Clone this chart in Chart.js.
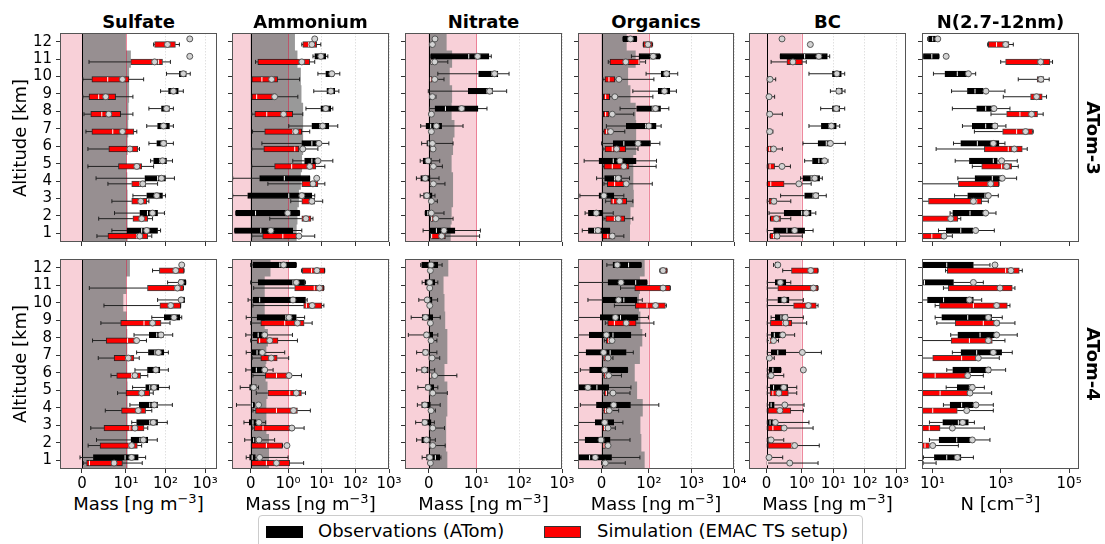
<!DOCTYPE html>
<html>
<head>
<meta charset="utf-8">
<script src="https://cdn.jsdelivr.net/npm/chart.js@4.4.0/dist/chart.umd.min.js"></script>
<style>
  body { margin: 0; width: 1105px; height: 544px; overflow: hidden; position: relative; background: #fff;
         font-family: 'DejaVu Sans', sans-serif; color: #000; }
  canvas { position: absolute; }
  .lbl { position: absolute; white-space: nowrap; line-height: 1; font-size: 18px; transform: translate(-50%, -50%); }
  .bold { font-weight: bold; }
  .lbl sup { font-size: 13px; vertical-align: 7px; line-height: 0; }
  #legend { position: absolute; left: 258px; top: 515px; width: 603px; height: 36px; border: 1px solid #cccccc;
            border-radius: 4px; background: #fff; font-size: 18px; }
  .patch { position: absolute; top: 10px; width: 37px; height: 12px; box-sizing: border-box; }
  .ltext { position: absolute; top: 6px; line-height: 1; }
</style>
</head>
<body>
<div id="legend">
  <div class="patch" style="left:7px;background:#000;"></div>
  <div class="ltext" style="left:59px;">Observations (ATom)</div>
  <div class="patch" style="left:285px;background:#ff0000;border:1px solid #333;"></div>
  <div class="ltext" style="left:338px;">Simulation (EMAC TS setup)</div>
</div>
<script>
const altitudes = [1, 2, 3, 4, 5, 6, 7, 8, 9, 10, 11, 12];

// each row: [whisker low, Q1, median, Q3, whisker high, mean], altitude 1 -> 12

// ---- ATom-3 ----
const sulfateA3Obs = [
  [6.8, 10.6, 25, 63, 75, 33.5], [7.4, 22.4, 35, 63, 94, 47], [15, 33.5, 53, 84, 100, 60],
  [3.2, 30, 63, 100, 168, 79], [42, 50, 71, 106, 150, 84], [38, 60, 80, 106, 158, 89],
  [33.5, 63, 89, 126, 158, 89], [38, 79, 106, 126, 158, 106], [75, 119, 158, 211, 282, 158],
  [106, 224, 282, 335, 422, 282], [410, 410, 410, 410, 410, 410], [410, 410, 410, 410, 410, 410]
];
const sulfateA3Sim = [
  [3.4, 5.9, 18.8, 35.5, 45, 22.4], [3.8, 15, 22.4, 35.5, 47, 25], [6.8, 14, 21, 33.5, 38, 23.7],
  [5.9, 14, 22.4, 31.6, 63, 26.6], [1.35, 8.3, 16.8, 25, 50, 18.8], [1.35, 6.1, 11.2, 20, 22, 12.6],
  [0.9, 2.25, 7.0, 15.8, 18.8, 9.2], [0.45, 2.0, 4.5, 8.8, 15, 6.1], [0.2, 1.6, 3.8, 7.65, 15, 5.4],
  [0.2, 2.25, 5.85, 11.9, 28, 9.2], [1.6, 13.3, 67, 84, 133, 53], [50, 53, 100, 178, 224, 112]
];
const sulfateA3Gray = [11, 11, 11, 10.8, 10.4, 11, 11.4, 11.6, 12, 12, 13.3, 10];

const ammoniumA3Obs = [
  [-0.43, -0.43, 0.27, 1.38, 2.56, 0.54], [-0.4, -0.4, 0.13, 2.2, 2.2, 0.99], [-0.48, -0.08, 1.05, 5.1, 6.2, 2.56],
  [-0.48, 0.24, 0.9, 4.4, 4.4, 7.1], [1.38, 3.1, 5.1, 7.1, 21.4, 7.7], [0.3, 2.56, 5.1, 8.3, 16.3, 8.3],
  [1.05, 5.1, 8.8, 16.3, 30, 10.7], [3.4, 9.4, 13.2, 18.7, 21.4, 13.2], [5.8, 14.2, 18.7, 24.5, 32.4, 18.7],
  [7.7, 13.2, 17.5, 22.9, 34.5, 20], [5.5, 6.2, 9.4, 13.2, 15.2, 9.4], [6.2, 6.2, 6.2, 6.2, 6.2, 6.2]
];
const ammoniumA3Sim = [
  [0.03, 0.32, 0.86, 1.8, 6.2, 2.1], [0.51, 2.56, 3.4, 4.8, 5.5, 3.4], [1.2, 2.56, 4.4, 6.2, 10.7, 5.1],
  [0.46, 2.56, 5.1, 7.7, 12.4, 5.5], [0.03, 0.64, 1.28, 6.7, 12.4, 4.4], [0.03, 0.35, 1.58, 2.1, 7.7, 2.74],
  [0.05, 0.375, 1.38, 2.56, 4.4, 1.69], [0.03, 0.11, 0.43, 1.38, 2.74, 0.88], [0.03, 0.03, 0.16, 0.67, 1.95, 0.64],
  [0.03, 0.03, 0.3, 0.72, 2.2, 0.56], [0.13, 0.19, 2.74, 4.4, 6.2, 2.56], [2.56, 2.74, 4.1, 7.1, 9.4, 5.1]
];
const ammoniumA3Gray = [1.8, 1.9, 2.1, 2.4, 2.6, 2.8, 2.8, 2.8, 2.5, 2.4, 1.9, 1.6];

const nitrateA3Obs = [
  [-1.2, 0.2, 1.6, 5.5, 12.4, 3.2], [-0.76, -0.76, -0.2, 0.28, 3.2, 0.55], [-1.8, -1.1, -0.6, 0.7, 1.3, -0.4],
  [-2.6, -1.7, -1.0, 0.28, 2.15, -0.76], [-1.8, -1.2, -0.3, 0.55, 2.3, -0.14], [-1.5, -0.42, -0.1, 0.28, 5.1, 0.76],
  [-1.7, -0.6, 0.4, 2.7, 7.2, 1.6], [0.14, 1.3, 3.5, 10.9, 17.7, 6.9], [-0.1, 8.3, 17.7, 23.9, 51, 20.4],
  [1.9, 11.3, 23.1, 31.8, 58, 26.6], [0.42, 0.42, 8.4, 19.7, 22.3, 10.7], [1.3, 1.3, 1.3, 1.3, 1.3, 1.3]
];
const nitrateA3Sim = [
  [0.42, 0.42, 0.6, 3.5, 11.9, 2.7], [0.42, 0.42, 0.6, 0.97, 5.1, 1.46], [0.28, 0.28, 0.4, 0.62, 1.8, 0.55],
  [0.28, 0.28, 0.4, 0.55, 3.4, 0.97], [0.28, 0.28, 0.4, 0.55, 2.85, 0.97], [0.28, 0.28, 0.4, 0.55, 0.9, 0.9],
  [0.28, 0.28, 0.35, 0.5, 0.6, 0.55], [0.28, 0.28, 0.35, 0.5, 0.6, 0.55], [0.28, 0.28, 0.4, 0.55, 1.5, 0.76],
  [0.2, 0.2, 0.4, 0.7, 3.2, 1.25], [0.42, 0.42, 0.55, 0.76, 4.0, 1.25], [0.5, 0.55, 0.65, 0.76, 0.8, 0.76]
];
const nitrateA3Gray = [4.6, 4.8, 5.1, 5.1, 4.8, 5.1, 5.4, 4.8, 4.9, 4.4, 4.9, 3.75];

const organicsA3Obs = [
  [-41, -28, -15, 17, 17, -7.7], [-35, -28, -15, 2.8, 24.6, -11.3], [-46, -5.6, 1.4, 26, 47, 4.9],
  [-10.6, 6.3, 27.5, 42, 59, 35], [-37, -5.6, 24.6, 73, 151, 38.7], [0, 24.6, 47, 109, 181, 77],
  [10, 52, 93, 148, 194, 100], [39, 74, 120, 188, 294, 143], [66, 165, 232, 310, 443, 232],
  [94, 194, 245, 310, 476, 259], [63, 79, 109, 181, 188, 126], [45, 45, 60, 74, 74, 61]
];
const organicsA3Sim = [
  [1.4, 1.4, 13, 28, 47, 22.5], [4.9, 8.5, 27, 49, 66, 35], [8.5, 19, 24.6, 53, 66, 38],
  [4.9, 12, 27.5, 56, 120, 52], [2.8, 4.9, 22.5, 58, 148, 47], [2.8, 7, 22.5, 51, 77, 31.7],
  [2.8, 4.9, 10.6, 15.5, 49, 19], [2.8, 3.5, 8.5, 15.5, 68, 22.5], [2.8, 3.5, 8.5, 17, 124, 28],
  [2.8, 7, 15.5, 28, 131, 36.6], [14, 17.6, 79, 81, 93, 51], [88, 88, 96, 120, 122, 98]
];
const organicsA3Gray = [60, 61, 68, 67, 67, 73, 73, 72, 61, 56, 72, 53];

const bcA3Obs = [
  [0.02, 0.2, 0.58, 1.24, 2.3, 0.8], [0.07, 0.5, 1.0, 2.0, 2.8, 1.4], [0.4, 1.24, 2.3, 3.45, 6, 2.8],
  [0.97, 1.1, 2.0, 3.7, 4.5, 2.6], [1.24, 2.2, 3.5, 6, 6.8, 5.3], [1.1, 3.3, 6, 8.7, 24, 8.1],
  [1.7, 4.2, 7.3, 12.5, 16, 8.7], [4, 9.4, 12.5, 16, 23, 12.5], [8.1, 12.5, 15, 19.4, 23.5, 15],
  [1.7, 9.4, 12.5, 18, 23, 13], [0.39, 0.39, 1.24, 6.5, 7.7, 3.5], [0.44, 0.44, 0.44, 0.44, 0.44, 0.44]
];
const bcA3Sim = [
  [0.1, 0.1, 0.2, 0.37, 1.05, 0.3], [0.11, 0.11, 0.25, 0.4, 0.69, 0.28], [0.02, 0.07, 0.15, 0.28, 0.69, 0.21],
  [0.02, 0.02, 0.12, 0.5, 2.0, 0.92], [0.02, 0.04, 0.1, 0.23, 0.68, 0.44], [0.02, 0.02, 0.08, 0.15, 0.45, 0.2],
  [0.02, 0.02, 0.05, 0.08, 0.18, 0.09], [0.02, 0.02, 0.05, 0.08, 0.45, 0.09], [0.02, 0.02, 0.04, 0.07, 0.23, 0.07],
  [0.02, 0.02, 0.05, 0.09, 0.26, 0.1], [0.13, 0.58, 0.8, 1.05, 1.4, 0.75], [1.88, 1.88, 1.88, 1.88, 1.88, 1.88]
];

const nA3Obs = [
  [14.9, 25, 67, 150, 644, 183], [32.6, 39, 125, 385, 721, 360], [44, 107, 344, 430, 843, 430],
  [55, 175, 563, 1055, 2900, 1100], [46, 120, 602, 790, 3030, 1055], [41, 67, 205, 882, 1320, 602],
  [75, 146, 360, 790, 1410, 674], [38, 196, 360, 602, 1850, 630], [36, 105, 175, 307, 1320, 367],
  [10.6, 23, 53, 125, 183, 112], [5.2, 5.4, 9.5, 15.5, 15.5, 25], [7.2, 7.6, 10.1, 13.3, 15.5, 14.2]
];
const nA3Sim = [
  [5.06, 5.06, 9.5, 21.7, 38, 21.7], [5.06, 5.06, 32.6, 55, 67, 34], [5.06, 7.6, 196, 275, 430, 157],
  [5.06, 57, 430, 882, 882, 503], [146, 275, 1055, 2070, 3240, 1480], [12.7, 329, 1650, 4250, 5940, 2480],
  [168, 1130, 2900, 8500, 8900, 5310], [514, 1480, 3630, 11900, 17400, 7950], [1180, 7430, 9950, 16300, 21800, 11100],
  [3240, 11600, 14900, 18200, 26100, 14900], [990, 1380, 15600, 27400, 32700, 14600], [411, 430, 750, 1730, 2320, 1380]
];

// ---- ATom-4 ----
const sulfateA4Obs = [
  [-0.45, 2.6, 9.8, 20.5, 31.4, 13.9], [3.3, 13.4, 22.6, 35.6, 62, 27.5], [14, 18.6, 40, 63, 111, 49],
  [12.6, 21.7, 40, 63, 149, 52], [14.7, 31.5, 40, 68, 125, 51], [16.9, 35, 54, 72, 118, 57],
  [18.6, 37, 54, 91, 118, 66], [16, 39, 60, 88, 152, 77], [45, 93, 174, 232, 257, 164],
  [63, 232, 260, 302, 302, 248], [113, 220, 266, 325, 325, 248], [257, 257, 257, 257, 257, 257]
];
const sulfateA4Sim = [
  [0.3, 1.06, 1.7, 9.2, 25.8, 7.3], [1.4, 4.1, 12, 19.4, 24.9, 13.9], [2, 5, 12.6, 28.6, 35.6, 16.9],
  [5.3, 9, 19, 31.4, 45, 20.5], [8.1, 10, 22, 40, 49, 25], [6.6, 7.9, 13.9, 23.5, 35.6, 16.9],
  [3.7, 7.3, 10, 15.9, 21.7, 11.5], [2.4, 5.5, 11, 18.6, 33, 18.6], [4.3, 8.8, 28.6, 77, 130, 47],
  [5, 72, 120, 242, 242, 135], [1.67, 35, 174, 283, 283, 200], [47, 70, 160, 294, 294, 181]
];
const sulfateA4Gray = [11, 11, 11, 11, 11, 10.8, 10.8, 10.8, 10.4, 9.4, 10.2, 12.6];

const ammoniumA4Obs = [
  [-0.12, -0.03, 0.04, 0.125, 1.0, 0.24], [-0.16, 0.02, 0.08, 0.125, 0.64, 0.22], [-0.18, -0.04, 0.06, 0.15, 0.4, 0.22],
  [-0.38, 0, 0.045, 0.1, 0.1, 0.21], [-0.28, -0.03, 0.04, 0.15, 0.21, 0.08], [-0.13, 0.02, 0.15, 0.375, 0.6, 0.375],
  [-0.12, 0.04, 0.17, 0.33, 0.91, 0.31], [-0.13, 0.06, 0.2, 0.42, 1.35, 0.375], [-0.12, 0.17, 0.94, 1.76, 3.1, 1.07],
  [-0.07, 0.06, 0.24, 3.3, 3.7, 1.4], [0, 0.2, 1.4, 3.1, 3.3, 1.76], [0, 0.06, 0.78, 1.76, 1.76, 0.88]
];
const ammoniumA4Sim = [
  [0.02, 0.02, 0.42, 1.12, 2.9, 0.69], [0.02, 0.02, 0.42, 0.85, 0.85, 0.97], [0.04, 0.09, 0.33, 1.4, 3.0, 1.3],
  [0.06, 0.13, 0.69, 1.9, 4.6, 1.45], [0.15, 0.46, 1.12, 2.5, 3.3, 1.76], [0.06, 0.39, 0.69, 1.12, 2.5, 1.07],
  [0.04, 0.27, 0.51, 0.71, 1.04, 0.55], [0, 0.17, 0.24, 0.73, 1.9, 0.51], [0, 0.27, 0.91, 3.0, 5.2, 1.9],
  [0.06, 2.9, 3.5, 10.2, 11.6, 5.2], [0.08, 1.57, 6, 11.6, 11.6, 8.6], [2.5, 2.65, 5, 12.3, 12.3, 7.2]
];
const ammoniumA4Gray = [0.49, 0.49, 0.42, 0.42, 0.45, 0.4, 0.42, 0.46, 0.375, 0.375, 0.375, 0.53];

const nitrateA4Obs = [
  [-1.4, -0.48, 1.38, 2.3, 2.55, 0.2], [-2.55, -1.5, -0.8, 0.34, 1.38, -0.48], [-2.76, -1.4, -0.8, 0.48, 1.17, -0.83],
  [-2.4, -1.5, -0.9, 0.34, 2.4, -0.83], [-2.3, -0.69, -0.2, 1.03, 1.9, -0.14], [-2.55, -1.5, -0.9, 0, 1.24, -0.9],
  [-2.55, -1.24, -0.7, 0, 1.7, -0.69], [-4.3, -0.9, -0.5, 0.83, 1.9, -0.48], [-3.7, -1.4, -0.7, 0.83, 2.4, -0.69],
  [-2.1, -0.69, -0.3, 0.69, 1.86, -0.34], [-1.4, -0.83, 0.2, 1.24, 1.9, 0.2], [-1.7, -1.5, 0.4, 1.9, 2.8, 0.48]
];
const nitrateA4Sim = [
  [0.1, 0.1, 0.2, 0.28, 0.4, 0.34], [0.2, 0.2, 0.3, 0.48, 3.45, 0.83], [0.2, 0.2, 0.3, 0.55, 3.3, 0.83],
  [0.1, 0.1, 0.2, 0.3, 1.38, 0.48], [0.2, 0.2, 0.3, 0.48, 3.9, 0.83], [0.2, 0.2, 0.4, 0.55, 5.9, 1.24],
  [0.1, 0.15, 0.3, 0.4, 2.3, 0.69], [0.1, 0.1, 0.2, 0.3, 1.7, 0.48], [0.1, 0.1, 0.2, 0.3, 0.4, 0.34],
  [0.1, 0.1, 0.15, 0.2, 0.3, 0.2], [0.1, 0.1, 0.15, 0.2, 0.3, 0.2], [0.1, 0.1, 0.2, 0.3, 0.4, 0.34]
];
const nitrateA4Gray = [3.9, 3.65, 3.65, 3.9, 3.9, 3.3, 3.9, 3.9, 3.45, 3.3, 3.1, 4.1];

const organicsA4Obs = [
  [-50, -50, -25.5, 21, 81, -13.5], [-50, -35, 4.3, 18, 60, -1.4], [-49, -13.5, 11, 25.5, 45, 6.4],
  [-45, -11, 24, 61, 171, 25.5], [-50, -50, -10, 15, 62, -29], [-45, -25.5, 10, 55, 55, 6.4],
  [-50, -33, 18, 52, 67, 4.3], [-50, -26, 24, 62, 93, 10], [-50, -2.8, 40, 77, 99, 29],
  [-29, 2.8, 47, 75, 86, 36], [-49, 13.5, 72, 96, 96, 41], [11, 24, 57, 84, 84, 33]
];
const organicsA4Sim = [
  [0, 0, 2, 4.3, 50, 7.8], [2, 2, 5, 8, 16, 13.5], [2, 2, 6, 10, 29, 13.5],
  [2, 4.3, 8, 12.8, 36, 16], [2, 5.7, 10, 12.8, 60, 24], [2, 4.3, 8, 11.4, 42, 15],
  [2, 4.3, 7.8, 12.8, 24, 13.5], [5.7, 10, 15, 20, 25.5, 22], [7.8, 12.8, 27, 73, 131, 52],
  [27, 71, 96, 244, 257, 143], [40, 70, 231, 318, 318, 215], [180, 187, 215, 267, 267, 215]
];
const organicsA4Gray = [91, 84, 82, 87, 75, 70, 81, 86, 82, 79, 81, 91];

const bcA4Obs = [
  [0.02, 0.02, 0.04, 0.05, 0.46, 0.07], [0.02, 0.04, 0.06, 0.1, 0.49, 0.13], [0.02, 0.04, 0.1, 0.18, 1.7, 0.25],
  [0.02, 0.08, 0.13, 0.22, 1.19, 0.52], [0.02, 0.1, 0.2, 0.6, 0.86, 0.49], [0.02, 0.07, 0.18, 0.41, 0.41, 1.13],
  [0.02, 0.13, 0.32, 0.55, 4.2, 1.05], [0.02, 0.13, 0.22, 0.52, 0.8, 0.46], [0.13, 0.25, 0.41, 0.6, 1.13, 0.53],
  [0.02, 0.32, 0.44, 0.64, 1.13, 0.5], [0.02, 0.25, 0.35, 0.55, 0.69, 0.39], [0.2, 0.25, 0.29, 0.35, 0.38, 0.32]
];
const bcA4Sim = [
  [0.02, 0.02, 0.03, 0.04, 3.3, 0.66], [0.02, 0.04, 0.72, 0.79, 3.6, 0.8], [0.02, 0.04, 0.18, 0.44, 2.3, 0.5],
  [0.02, 0.04, 0.36, 0.69, 1.13, 0.38], [0.02, 0.1, 0.18, 0.62, 0.86, 0.35], [0.02, 0.04, 0.08, 0.15, 0.49, 0.13],
  [0.02, 0.02, 0.05, 0.08, 0.22, 0.08], [0.02, 0.07, 0.08, 0.16, 0.34, 0.2], [0.02, 0.11, 0.46, 0.72, 1.44, 0.55],
  [0.02, 0.77, 1.6, 2.9, 3.3, 1.63], [0.02, 0.32, 2.3, 3.3, 3.3, 2.35], [0.46, 0.71, 1.8, 3.3, 3.3, 1.93]
];

const nA4Obs = [
  [5.4, 11.3, 26, 68, 157, 53], [8.1, 15.5, 51, 134, 480, 146], [8.1, 19.9, 57, 112, 168, 76],
  [20.8, 32.6, 71, 157, 602, 187], [25, 53, 120, 164, 329, 146], [26, 39, 125, 503, 1380, 430],
  [38, 68, 196, 1055, 2160, 602], [34, 55, 246, 753, 3030, 753], [11.9, 18.6, 107, 538, 1100, 430],
  [4.9, 7.1, 21, 157, 275, 120], [4.9, 5.4, 5.8, 41, 307, 157], [4.9, 4.9, 26, 157, 480, 673]
];
const nA4Sim = [
  [1, 2, 3, 4, 12.7, 4.5], [4.9, 4.9, 6, 8.1, 57, 10.1], [4.9, 4.9, 8, 16.6, 329, 38],
  [4.9, 4.9, 10.1, 53, 602, 100], [4.9, 4.9, 16.6, 107, 538, 125], [4.9, 4.9, 11.9, 120, 307, 107],
  [4.9, 10.1, 71, 187, 902, 219], [4.9, 35, 120, 563, 1320, 430], [13.3, 46, 307, 902, 2590, 753],
  [11.9, 15.9, 157, 1550, 1850, 753], [20.8, 29, 944, 2160, 2590, 944], [24, 27, 1380, 3470, 4250, 1980]
];

const panelInfo = [
  { title: 'Sulfate', xlabel: 'Mass [ng m<sup>−3</sup>]', c: 10, xmax: 2000, tickVals: [0, 10, 100, 1000], gridVals: [100, 1000] },
  { title: 'Ammonium', xlabel: 'Mass [ng m<sup>−3</sup>]', c: 1, xmax: 1000, tickVals: [0, 1, 10, 100, 1000], gridVals: [10, 100, 1000] },
  { title: 'Nitrate', xlabel: 'Mass [ng m<sup>−3</sup>]', c: 10, xmax: 1000, tickVals: [0, 10, 100, 1000], gridVals: [100, 1000] },
  { title: 'Organics', xlabel: 'Mass [ng m<sup>−3</sup>]', c: 100, xmax: 10000, tickVals: [0, 100, 1000, 10000], gridVals: [1000, 10000] },
  { title: 'BC', xlabel: 'Mass [ng m<sup>−3</sup>]', c: 1, xmax: 2000, tickVals: [0, 1, 10, 100, 1000], gridVals: [10, 100, 1000] },
  { title: 'N(2.7-12nm)', xlabel: 'N [cm<sup>−3</sup>]', log: true, xmin: 4.9, xmax: 195000, tickVals: [10, 1000, 100000], gridVals: [100, 10000] }
];

const panelData = [
  [{ obs: sulfateA3Obs, sim: sulfateA3Sim, gray: sulfateA3Gray }, { obs: sulfateA4Obs, sim: sulfateA4Sim, gray: sulfateA4Gray }],
  [{ obs: ammoniumA3Obs, sim: ammoniumA3Sim, gray: ammoniumA3Gray }, { obs: ammoniumA4Obs, sim: ammoniumA4Sim, gray: ammoniumA4Gray }],
  [{ obs: nitrateA3Obs, sim: nitrateA3Sim, gray: nitrateA3Gray }, { obs: nitrateA4Obs, sim: nitrateA4Sim, gray: nitrateA4Gray }],
  [{ obs: organicsA3Obs, sim: organicsA3Sim, gray: organicsA3Gray }, { obs: organicsA4Obs, sim: organicsA4Sim, gray: organicsA4Gray }],
  [{ obs: bcA3Obs, sim: bcA3Sim }, { obs: bcA4Obs, sim: bcA4Sim }],
  [{ obs: nA3Obs, sim: nA3Sim }, { obs: nA4Obs, sim: nA4Sim }]
];
const campaigns = ['ATom-3', 'ATom-4'];

// layout of the plot areas in the page
const colLeft = [60, 232, 405, 578, 749, 922];
const colRight = [217, 389, 562, 734, 906, 1079];
const rowTop = [33, 259];
const rowBottom = [242, 469];
const OFF = 0.16;

Chart.defaults.font.family = "'DejaVu Sans', sans-serif";
Chart.defaults.color = '#000';

const supDigits = { '0': '⁰', '1': '¹', '2': '²', '3': '³', '4': '⁴', '5': '⁵', '-': '⁻' };
function tickLabel(v) {
  if (v === 0) return '0';
  const n = Math.round(Math.log10(v));
  return '10' + String(n).split('').map(ch => supDigits[ch]).join('');
}

// symlog like matplotlib (base 10, linscale 1), or plain log10
function makeT(p) {
  if (p.log) return v => Math.log10(v);
  const k = 1 / (1 - 0.1);
  return v => {
    const a = Math.abs(v), s = Math.sign(v);
    return a <= p.c ? s * a / p.c * k : s * (k + Math.log10(a / p.c));
  };
}

function decor(p, d, T) {
  const series = [[d.obs, OFF], [d.sim, -OFF]];
  return {
    id: 'decor',
    beforeDatasetsDraw(chart) {
      const { ctx, chartArea: a, scales: { x, y } } = chart;
      ctx.save();
      ctx.beginPath();
      ctx.rect(a.left, a.top, a.right - a.left, a.bottom - a.top);
      ctx.clip();
      if (!p.log) {
        const xc = x.getPixelForValue(T(p.c));
        ctx.fillStyle = 'rgba(220,20,60,0.2)';
        ctx.fillRect(a.left, a.top, xc - a.left, a.bottom - a.top);
        const x0 = x.getPixelForValue(0);
        if (d.gray) {
          ctx.beginPath();
          ctx.moveTo(x0, y.getPixelForValue(0.5));
          d.gray.forEach((g, i) => {
            const gx = x.getPixelForValue(T(g));
            ctx.lineTo(gx, y.getPixelForValue(altitudes[i] - 0.5));
            ctx.lineTo(gx, y.getPixelForValue(altitudes[i] + 0.5));
          });
          ctx.lineTo(x0, y.getPixelForValue(12.5));
          ctx.closePath();
          ctx.fillStyle = 'rgba(128,128,128,0.8)';
          ctx.fill();
        }
        ctx.lineWidth = 1;
        ctx.strokeStyle = 'rgba(220,20,60,0.5)';
        ctx.beginPath();
        ctx.moveTo(Math.round(xc) + 0.5, a.top);
        ctx.lineTo(Math.round(xc) + 0.5, a.bottom);
        ctx.stroke();
        ctx.strokeStyle = '#000';
        ctx.beginPath();
        ctx.moveTo(Math.round(x0) + 0.5, a.top);
        ctx.lineTo(Math.round(x0) + 0.5, a.bottom);
        ctx.stroke();
      }
      // whiskers with caps
      ctx.strokeStyle = '#222';
      ctx.lineWidth = 1;
      series.forEach(([rows, off]) => rows.forEach((r, i) => {
        if (r[4] - r[0] <= 0) return;
        const yp = y.getPixelForValue(altitudes[i] + off);
        const lo = x.getPixelForValue(T(r[0])), q1 = x.getPixelForValue(T(r[1]));
        const q3 = x.getPixelForValue(T(r[3])), hi = x.getPixelForValue(T(r[4]));
        ctx.beginPath();
        ctx.moveTo(lo, yp); ctx.lineTo(q1, yp);
        ctx.moveTo(q3, yp); ctx.lineTo(hi, yp);
        ctx.moveTo(lo, yp - 2); ctx.lineTo(lo, yp + 2);
        ctx.moveTo(hi, yp - 2); ctx.lineTo(hi, yp + 2);
        ctx.stroke();
      }));
      ctx.restore();
    },
    afterDatasetDraw(chart, args) {
      if (args.index < 2) return;
      const rows = args.index === 2 ? d.obs : d.sim;
      const off = args.index === 2 ? OFF : -OFF;
      const { ctx, chartArea: a, scales: { x, y } } = chart;
      ctx.save();
      ctx.beginPath();
      ctx.rect(a.left, a.top, a.right - a.left, a.bottom - a.top);
      ctx.clip();
      ctx.strokeStyle = '#fff';
      ctx.lineWidth = 1;
      rows.forEach((r, i) => {
        if (r[3] - r[1] <= 0) return;
        const yp = y.getPixelForValue(altitudes[i] + off);
        const xm = x.getPixelForValue(T(r[2]));
        ctx.beginPath();
        ctx.moveTo(xm, yp - 2.3);
        ctx.lineTo(xm, yp + 2.3);
        ctx.stroke();
      });
      ctx.restore();
    },
    afterDraw(chart) {
      const { ctx, chartArea: a } = chart;
      ctx.save();
      ctx.strokeStyle = '#555';
      ctx.lineWidth = 1;
      ctx.strokeRect(a.left + 0.5, a.top + 0.5, a.right - a.left - 1, a.bottom - a.top - 1);
      ctx.restore();
    }
  };
}

function makePanel(col, row) {
  const p = panelInfo[col], d = panelData[col][row], T = makeT(p);
  const L = colLeft[col], W = colRight[col] - L;
  const top = rowTop[row], H = rowBottom[row] - top;
  const cv = document.createElement('canvas');
  cv.width = W + 80;
  cv.height = H + 46;
  cv.style.left = (L - 40) + 'px';
  cv.style.top = (top - 6) + 'px';
  document.body.appendChild(cv);

  const xMin = p.log ? Math.log10(p.xmin) : T(-0.5 * p.c);
  const xMax = T(p.xmax);
  const gridPos = p.gridVals.map(T);
  const boxes = (rows, off) => rows.map((r, i) => ({ y: altitudes[i] + off, x: [T(r[1]), T(r[3])] }));
  const means = (rows, off) => rows.map((r, i) => ({ y: altitudes[i] + off, x: T(r[5]) }));
  const meanStyle = { type: 'scatter', pointRadius: 3, pointBackgroundColor: '#d3d3d3', pointBorderColor: '#555', pointBorderWidth: 1 };
  const boxStyle = { barThickness: 5.6, grouped: false, borderWidth: 1, borderSkipped: false };

  new Chart(cv, {
    type: 'bar',
    data: {
      datasets: [
        Object.assign({ label: 'obs mean', data: means(d.obs, OFF) }, meanStyle),
        Object.assign({ label: 'sim mean', data: means(d.sim, -OFF) }, meanStyle),
        Object.assign({ label: 'Observations (ATom)', data: boxes(d.obs, OFF), backgroundColor: '#000', borderColor: '#000' }, boxStyle),
        Object.assign({ label: 'Simulation (EMAC TS setup)', data: boxes(d.sim, -OFF), backgroundColor: '#ff0000', borderColor: 'rgba(0,0,0,0.75)' }, boxStyle)
      ]
    },
    options: {
      indexAxis: 'y',
      responsive: false,
      animation: false,
      events: [],
      layout: { padding: { left: 0, right: 40, top: 6, bottom: 0 } },
      plugins: { legend: { display: false }, tooltip: { enabled: false } },
      scales: {
        x: {
          type: 'linear', position: 'bottom', min: xMin, max: xMax, bounds: 'data',
          afterBuildTicks: s => { s.ticks = p.tickVals.map(v => ({ value: T(v) })); },
          afterFit: s => { s.height = 40; s.paddingLeft = 0; s.paddingRight = 0; },
          ticks: {
            autoSkip: false, maxRotation: 0, minRotation: 0, padding: 2, font: { size: 15 }, color: '#000',
            callback: (v, i) => row === 1 ? tickLabel(p.tickVals[i]) : ''
          },
          grid: {
            drawOnChartArea: true, lineWidth: 1, tickLength: 4, tickColor: '#333', tickWidth: 1,
            color: ctx => (ctx.tick && gridPos.some(g => Math.abs(g - ctx.tick.value) < 1e-6)) ? 'rgba(0,0,0,0.12)' : 'rgba(0,0,0,0)'
          },
          border: { display: false, dash: [1.5, 1.5] }
        },
        y: {
          type: 'linear', position: 'left', min: 0.5, max: 12.5, offset: false, bounds: 'data',
          afterBuildTicks: s => { s.ticks = altitudes.map(v => ({ value: v })); },
          afterFit: s => { s.width = 40; s.paddingTop = 0; s.paddingBottom = 0; },
          ticks: { autoSkip: false, padding: 4, font: { size: 15 }, color: '#000', callback: v => col === 0 ? String(v) : '' },
          grid: { drawOnChartArea: false, offset: false, tickLength: 4, tickColor: '#333', tickWidth: 1 },
          border: { display: false }
        }
      }
    },
    plugins: [decor(p, d, T)]
  });
}

function addLabel(html, x, y, cls, rot) {
  const el = document.createElement('div');
  el.className = 'lbl ' + (cls || '');
  el.innerHTML = html;
  el.style.left = x + 'px';
  el.style.top = y + 'px';
  if (rot) el.style.transform = 'translate(-50%, -50%) rotate(' + rot + 'deg)';
  document.body.appendChild(el);
}

panelInfo.forEach((p, col) => {
  const cx = (colLeft[col] + colRight[col]) / 2;
  addLabel(p.title, cx, 21.5, 'bold');
  addLabel(p.xlabel, cx, 503.5);
  for (let row = 0; row < 2; row++) makePanel(col, row);
});
campaigns.forEach((c, row) => {
  const cy = (rowTop[row] + rowBottom[row]) / 2;
  addLabel('Altitude [km]', 20, cy, '', -90);
  addLabel(c, 1093, cy, 'bold', 90);
});
</script>
</body>
</html>
